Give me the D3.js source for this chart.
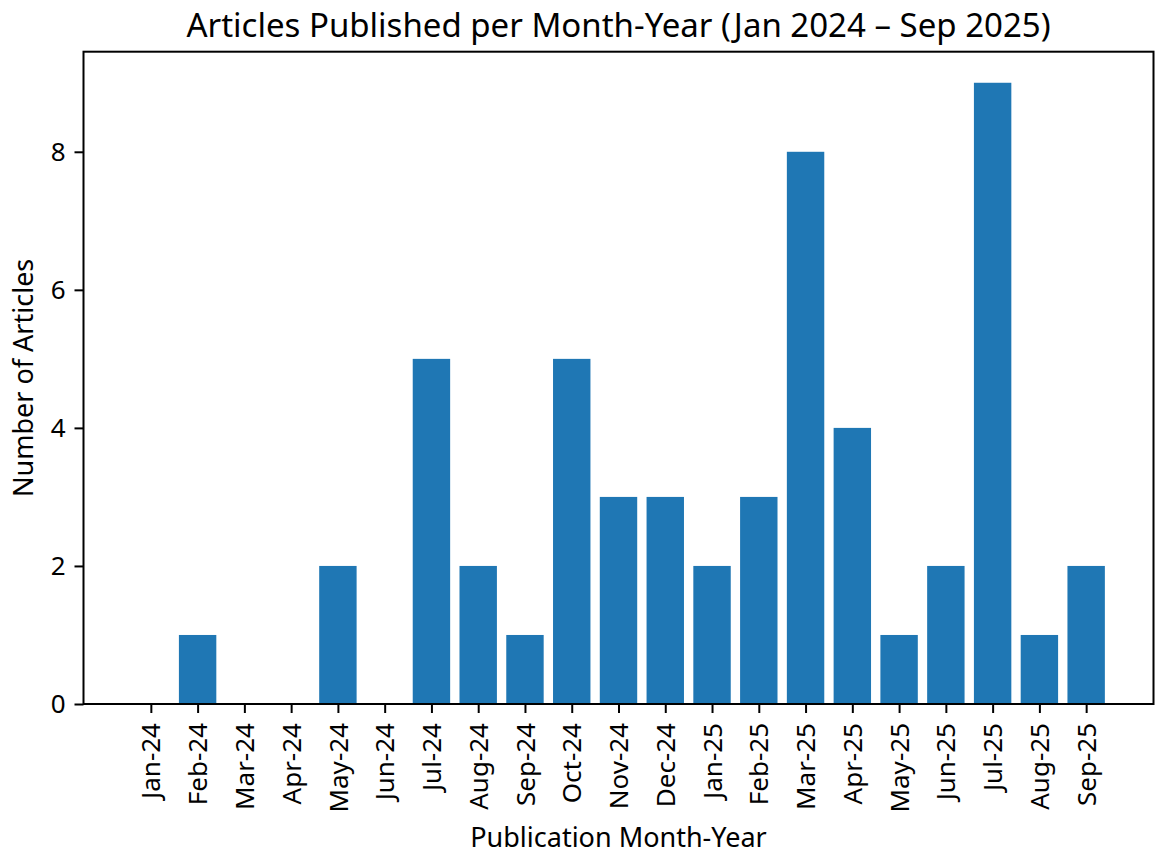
<!DOCTYPE html>
<html lang='en'>
  <head>
    <meta charset='utf-8'>
    <title>Articles Published per Month-Year</title>
    <script src='https://cdn.jsdelivr.net/npm/d3@7'></script>
    <style>
      body { margin: 0; background: white; }
      text { font-family: 'Noto Sans', 'DejaVu Sans', sans-serif; fill: #000; }
      .tick line { stroke: #000; stroke-width: 2; }
      .domain { display: none; }
    </style>
  </head>
  <body>
    <div id='chart'></div>
    <script type='text/javascript'>

      // data
      var months = ['Jan-24', 'Feb-24', 'Mar-24', 'Apr-24', 'May-24', 'Jun-24',
                    'Jul-24', 'Aug-24', 'Sep-24', 'Oct-24', 'Nov-24', 'Dec-24',
                    'Jan-25', 'Feb-25', 'Mar-25', 'Apr-25', 'May-25', 'Jun-25',
                    'Jul-25', 'Aug-25', 'Sep-25'];
      var counts = [0, 1, 0, 0, 2, 0, 5, 2, 1, 5, 3, 3, 2, 3, 8, 4, 1, 2, 9, 1, 2];
      var yTicks = [0, 2, 4, 6, 8];

      var svgWidth = 1165;
      var svgHeight = 857;

      var leftBuffer = 83.5;
      var rightBuffer = 1153.5;
      var topBuffer = 51.7;
      var bottomBuffer = 704;

      var barWidth = 0.8;
      var tickFont = '26px';

      var svg = d3.select('#chart').append('svg')
                  .attr('width', svgWidth)
                  .attr('height', svgHeight);

      // matplotlib style limits: 5% margin around the bars
      var xMin = -barWidth / 2;
      var xMax = months.length - 1 + barWidth / 2;
      var xPad = (xMax - xMin) * 0.05;

      var xScale = d3.scaleLinear()
                     .domain([xMin - xPad, xMax + xPad])
                     .range([leftBuffer, rightBuffer]);

      var yScale = d3.scaleLinear()
                     .domain([0, d3.max(counts) * 1.05])
                     .range([bottomBuffer, topBuffer]);

      // bars
      svg.selectAll('rect.bar').data(counts)
         .enter().append('rect')
           .attr('class', 'bar')
           .attr('x', function(d, i){ return xScale(i - barWidth / 2); })
           .attr('width', function(d, i){ return xScale(i + barWidth / 2) - xScale(i - barWidth / 2); })
           .attr('y', function(d){ return yScale(d); })
           .attr('height', function(d){ return bottomBuffer - yScale(d); })
           .attr('fill', '#1f77b4');

      // axes
      var xAxis = d3.axisBottom(xScale)
                    .tickValues(d3.range(months.length))
                    .tickSize(9)
                    .tickPadding(9)
                    .tickFormat(function(d){ return months[d]; });

      var yAxis = d3.axisLeft(yScale)
                    .tickValues(yTicks)
                    .tickSize(9)
                    .tickPadding(9);

      svg.append('g')
         .attr('transform', 'translate(0,' + bottomBuffer + ')')
         .call(xAxis)
         .selectAll('text')
           .style('font-size', tickFont)
           .style('text-anchor', 'end')
           .attr('x', 0)
           .attr('y', 0)
           .attr('dx', '-19px')
           .attr('dy', '0.35em')
           .attr('transform', 'rotate(-90)');

      svg.append('g')
         .attr('transform', 'translate(' + leftBuffer + ',0)')
         .call(yAxis)
         .selectAll('text')
           .style('font-size', tickFont);

      // frame
      svg.append('rect')
         .attr('x', leftBuffer)
         .attr('y', topBuffer)
         .attr('width', rightBuffer - leftBuffer)
         .attr('height', bottomBuffer - topBuffer)
         .attr('fill', 'none')
         .attr('stroke', '#000')
         .attr('stroke-width', 2);

      // labels
      svg.append('text')
         .text('Articles Published per Month-Year (Jan 2024 \u2013 Sep 2025)')
         .style('font-size', '33px')
         .style('text-anchor', 'middle')
         .attr('x', (leftBuffer + rightBuffer) / 2)
         .attr('y', 37);

      svg.append('text')
         .text('Publication Month-Year')
         .style('font-size', '27px')
         .style('text-anchor', 'middle')
         .attr('x', (leftBuffer + rightBuffer) / 2)
         .attr('y', 847);

      svg.append('text')
         .text('Number of Articles')
         .style('font-size', '27px')
         .style('text-anchor', 'middle')
         .attr('transform', 'translate(33,' + (topBuffer + bottomBuffer) / 2 + ') rotate(-90)');

    </script>
  </body>
</html>
